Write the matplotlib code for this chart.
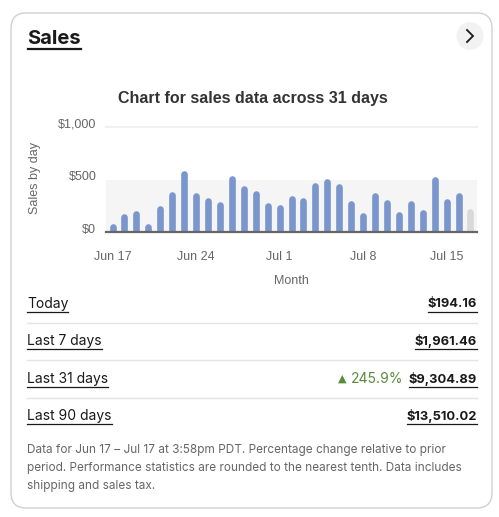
import matplotlib.pyplot as plt
from matplotlib.patches import FancyBboxPatch, Circle
from matplotlib.transforms import ScaledTranslation

# daily sales, Jun 17 - Jul 17 (last day is today, still in progress)
days = list(range(31))
sales = [47, 147, 169, 47, 216, 356, 553, 347, 291, 253,
         506, 406, 366, 244, 225, 319, 291, 441, 478, 431,
         263, 150, 347, 272, 159, 263, 178, 497, 281, 347, 194]
tick_pos = [0, 7, 14, 21, 28]
tick_labels = ['Jun 17', 'Jun 24', 'Jul 1', 'Jul 8', 'Jul 15']
y_ticks = [0, 500, 1000]
y_labels = ['$0', '$500', '$1,000']

rows = ['Today', 'Last 7 days', 'Last 31 days', 'Last 90 days']
row_values = ['$194.16', '$1,961.46', '$9,304.89', '$13,510.02']
change_31 = '245.9%'

W, H = 499, 517
BLUE = '#7b96cc'
GREY_BAR = '#d9d9d9'
DARK = '#191919'
MUTED = '#666666'


def fx(px):
    return px / W


def fy(py):
    return 1 - py / H


def underline(fig, text_artist, y):
    fig.canvas.draw()
    bb = text_artist.get_window_extent()
    fig.add_artist(plt.Line2D([bb.x0 / W, bb.x1 / W], [fy(y), fy(y)],
                              color=DARK, lw=0.9, transform=fig.transFigure))
    return bb


def main():
    fig = plt.figure(figsize=(W / 100, H / 100), dpi=100)
    fig.patch.set_facecolor('white')

    # card
    card = FancyBboxPatch((fx(11), fy(508)), fx(481), (508 - 13) / H,
                          boxstyle='round,pad=0,rounding_size=0.03',
                          transform=fig.transFigure, facecolor='white',
                          edgecolor='#d0d0d0', linewidth=1.0, zorder=-10)
    fig.patches.append(card)

    ui = ['Inter', 'DejaVu Sans']
    chart_font = ['Liberation Sans', 'DejaVu Sans']

    # header
    fig.text(fx(27), fy(39), 'Sales', fontsize=14.5, fontweight='bold',
             family=ui, color=DARK, va='center', ha='left')
    fig.add_artist(plt.Line2D([fx(28), fx(81)], [fy(49), fy(49)],
                              color=DARK, lw=1.6, transform=fig.transFigure))
    fig.patches.append(Circle((fx(470), fy(36)), 13.5 / W,
                              transform=fig.transFigure,
                              facecolor='#f2f2f2', edgecolor='none',
                              zorder=-5))
    # chevron
    fig.add_artist(plt.Line2D([fx(467), fx(473), fx(467)],
                              [fy(30), fy(36), fy(42)], color=DARK, lw=1.3,
                              solid_joinstyle='miter',
                              transform=fig.transFigure))

    # chart
    fig.text(fx(253), fy(99), 'Chart for sales data across 31 days',
             fontsize=11.5, fontweight='bold', family=chart_font,
             color='#333333', ha='center', va='center')

    ax = fig.add_axes([fx(106), fy(232), fx(371), (232 - 127) / H])
    ax.set_facecolor('none')
    ax.set_xlim(-0.55, 30.55)
    ax.set_ylim(0, 1000)
    ax.axhspan(0, 500, color='#f5f5f5', zorder=0, lw=0)
    ax.axhline(1000, color='#f0f0f0', lw=1.5, zorder=0, clip_on=False)

    colors = [BLUE] * (len(sales) - 1) + [GREY_BAR]
    ax.vlines(days, 0, sales, colors=colors, linewidth=4.8,
              capstyle='round', zorder=2)
    ax.axhline(0, color='#666666', lw=1.6, zorder=3, clip_on=False)

    for s in ax.spines.values():
        s.set_visible(False)
    ax.set_yticks(y_ticks)
    ax.set_yticklabels(y_labels)
    ax.set_xticks(tick_pos)
    ax.set_xticklabels(tick_labels)
    ax.tick_params(length=0, labelsize=9, labelcolor=MUTED)
    ax.tick_params(axis='x', pad=14)
    ax.tick_params(axis='y', pad=7)
    for lab in ax.get_xticklabels() + ax.get_yticklabels():
        lab.set_family(chart_font)
    up = ScaledTranslation(0, 4 / 100, fig.dpi_scale_trans)
    for lab in ax.get_yticklabels():
        lab.set_transform(lab.get_transform() + up)
    ax.set_xlabel('Month', fontsize=9, color=MUTED, family=chart_font,
                  labelpad=8)
    fig.text(fx(35), fy(178), 'Sales by day', rotation=90, fontsize=9,
             color=MUTED, family=chart_font, ha='center', va='center')

    # summary rows
    row_y = [304, 341, 379, 416]
    for i, (name, val) in enumerate(zip(rows, row_values)):
        y = row_y[i]
        n = fig.text(fx(27), fy(y), name, fontsize=10, family=ui, color=DARK,
                     va='center', ha='left')
        underline(fig, n, y + 8)
        t = fig.text(fx(477), fy(y), val, fontsize=9.3, fontweight='bold',
                     family=ui, color=DARK, va='center', ha='right')
        bb = underline(fig, t, y + 8)
        if name == 'Last 31 days':
            p = fig.text(bb.x0 / W - fx(5), fy(y), change_31, fontsize=10,
                         family=ui, color='#5b8a3a', va='center', ha='right')
            fig.canvas.draw()
            pb = p.get_window_extent()
            fig.text(pb.x0 / W - fx(5), fy(y), '\u25b2', fontsize=8,
                     family=['DejaVu Sans'], color='#5b8a3a',
                     va='center', ha='right')
        if i < len(rows) - 1:
            fig.add_artist(plt.Line2D([fx(27), fx(477)],
                                      [fy(y + 19), fy(y + 19)],
                                      color='#e5e5e5', lw=1.0,
                                      transform=fig.transFigure))

    note = ('Data for Jun 17 \u2013 Jul 17 at 3:58pm PDT. Percentage change relative to prior\n'
            'period. Performance statistics are rounded to the nearest tenth. Data includes\n'
            'shipping and sales tax.')
    fig.text(fx(27), fy(444), note, fontsize=8.5, family=ui, color=MUTED,
             va='top', ha='left', linespacing=1.68)

    fig.savefig('out.png', dpi=100)


if __name__ == "__main__":
    main()
